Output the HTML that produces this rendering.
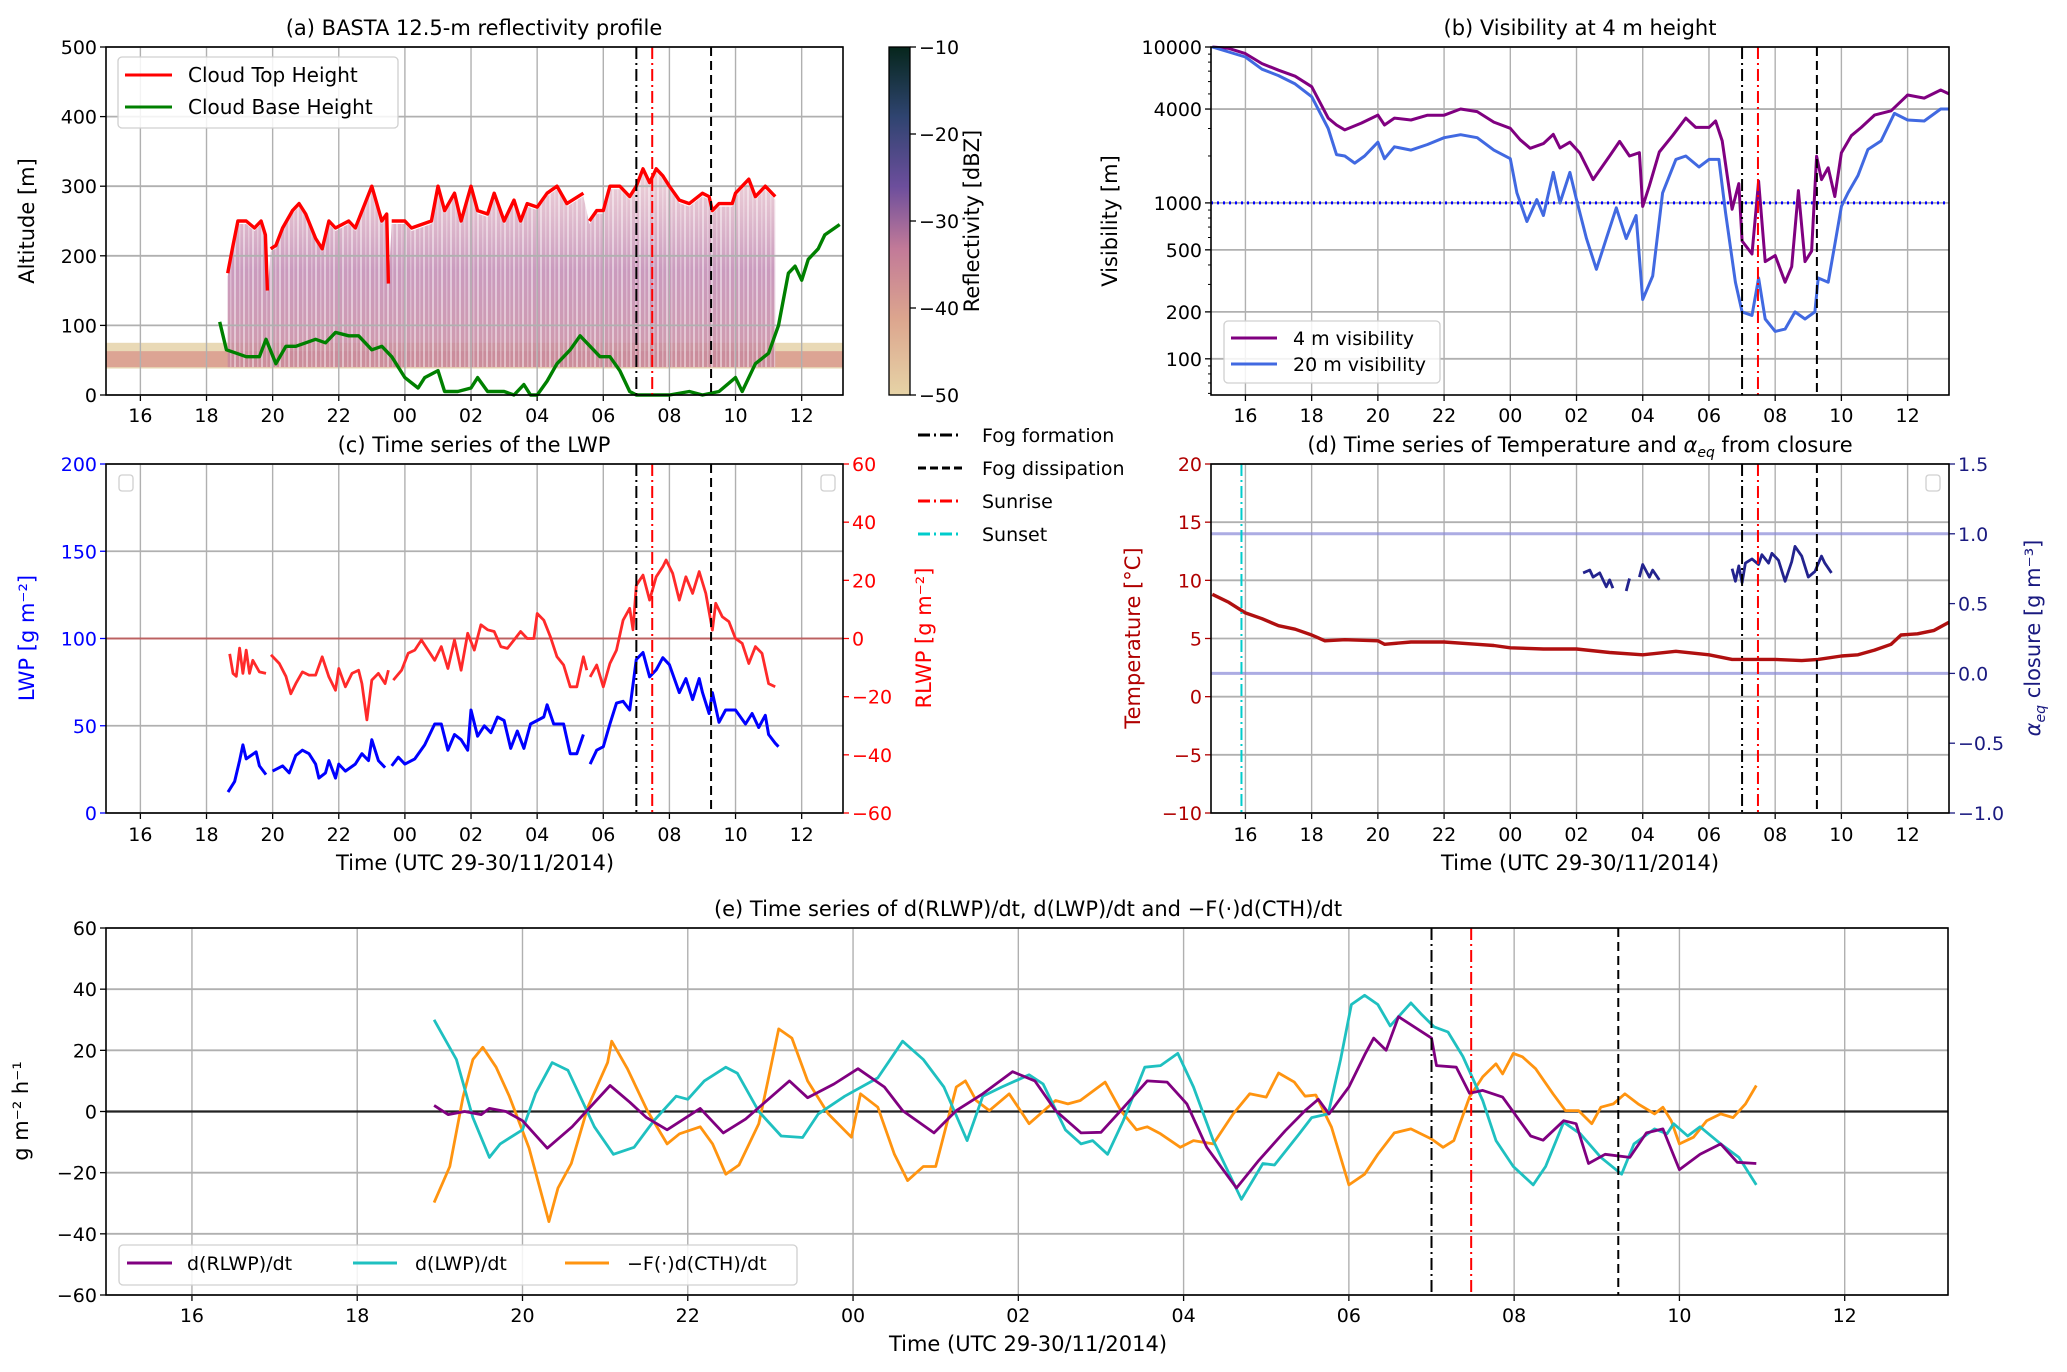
<!DOCTYPE html>
<html><head><meta charset="utf-8"><title>Fog case chart</title>
<style>
html,body{margin:0;padding:0;background:#fff;}
svg{display:block;font-family:"DejaVu Sans","Liberation Sans",sans-serif;}
</style></head>
<body>
<svg id="fig" width="2067" height="1372" viewBox="0 0 2067 1372" xmlns="http://www.w3.org/2000/svg">
<defs>
<linearGradient id="cbar" x1="0" y1="1" x2="0" y2="0">
<stop offset="0" stop-color="#e6d3a6"/><stop offset="0.22" stop-color="#dca58e"/>
<stop offset="0.42" stop-color="#c27a98"/><stop offset="0.6" stop-color="#6c4e9c"/>
<stop offset="0.8" stop-color="#2f4470"/><stop offset="1" stop-color="#06261c"/>
</linearGradient>
<linearGradient id="cloudfill" x1="0" y1="0" x2="0" y2="1">
<stop offset="0" stop-color="#e2b4c0" stop-opacity="0.6"/><stop offset="0.5" stop-color="#b97aa8" stop-opacity="0.75"/>
<stop offset="1" stop-color="#c98a9c" stop-opacity="0.85"/>
</linearGradient>
<pattern id="streaks" width="9" height="10" patternUnits="userSpaceOnUse">
<rect x="0" y="0" width="9" height="10" fill="#fff" fill-opacity="0"/>
<rect x="0" y="0" width="2" height="10" fill="#fff" fill-opacity="0.45"/>
<rect x="5" y="0" width="1.5" height="10" fill="#fff" fill-opacity="0.3"/>
</pattern>
</defs>
</svg>
<script>
// ---------- DATA ----------
const xTicks=[16,18,20,22,24,26,28,30,32,34,36];
const xTickLabels=["16","18","20","22","00","02","04","06","08","10","12"];
const fogFormation=31.0, sunrise=31.48, fogDissipation=33.26, sunset=15.88;

const cthT=[18.64,18.8,18.95,19.2,19.45,19.65,19.78,19.84,null,19.94,20.1,20.3,20.6,20.8,21.0,21.3,21.5,21.7,21.9,22.3,22.5,23.0,23.3,23.45,23.5,null,23.6,24.0,24.2,24.8,25.0,25.2,25.5,25.7,26.0,26.2,26.5,26.7,27.0,27.3,27.5,27.7,28.0,28.3,28.6,28.9,29.4,null,29.58,29.8,30.0,30.2,30.5,30.8,31.0,31.2,31.4,31.6,31.8,32.0,32.3,32.6,33.0,33.2,33.3,33.5,33.9,34.0,34.4,34.6,34.9,35.2];
const cthV=[175,215,250,250,240,250,230,150,null,210,215,240,265,275,260,225,210,250,240,250,240,300,250,260,160,null,250,250,240,250,300,265,290,250,300,265,260,290,250,280,250,275,270,290,300,275,290,null,250,265,265,300,300,285,300,325,305,325,315,300,280,275,290,285,265,275,275,290,310,285,300,285];
const cbhT=[18.4,18.6,18.9,19.2,19.6,19.8,20.1,20.4,20.7,21.0,21.3,21.6,21.9,22.3,22.6,23.0,23.3,23.6,24.0,24.4,24.6,25.0,25.2,25.6,26.0,26.2,26.5,27.0,27.3,27.6,27.8,28.0,28.3,28.6,29.0,29.3,29.6,29.9,30.2,30.5,30.8,31.0,32.0,32.6,33.0,33.5,34.0,34.2,34.6,35.0,35.3,35.6,35.8,36.0,36.2,36.5,36.7,37.0,37.15];
const cbhV=[105,65,60,55,55,80,45,70,70,75,80,75,90,85,85,65,70,55,25,10,25,35,5,5,10,25,5,5,0,15,0,0,20,45,65,85,70,55,55,35,5,0,0,5,0,5,25,5,45,60,100,175,185,165,195,210,230,240,245];

const vis4T=[15.0,15.5,16.0,16.5,17.0,17.5,18.0,18.5,18.75,19.0,19.5,20.0,20.2,20.5,21.0,21.5,22.0,22.5,23.0,23.5,24.0,24.3,24.6,25.0,25.3,25.5,25.8,26.1,26.5,27.0,27.3,27.6,27.9,28.0,28.2,28.5,28.9,29.3,29.6,30.0,30.2,30.4,30.7,30.9,31.0,31.3,31.5,31.7,32.0,32.3,32.5,32.7,32.9,33.1,33.25,33.4,33.6,33.8,34.0,34.3,34.6,35.0,35.5,36.0,36.5,37.0,37.25];
const vis4V=[10000,9800,9070,7830,7100,6500,5560,3500,3160,2940,3250,3660,3160,3500,3400,3650,3650,4000,3850,3300,3010,2540,2240,2400,2750,2250,2450,2090,1410,2000,2480,2000,2100,950,1290,2120,2700,3500,3050,3050,3350,2500,910,1330,570,470,1380,420,460,310,390,1200,420,490,1990,1410,1680,1100,2100,2700,3050,3660,3900,4920,4700,5300,5000];
const vis20T=[15.0,16.0,16.5,17.0,17.5,18.0,18.5,18.75,19.0,19.3,19.6,20.0,20.2,20.5,21.0,21.5,22.0,22.5,23.0,23.5,24.0,24.2,24.5,24.8,25.0,25.3,25.5,25.8,26.0,26.3,26.6,26.9,27.2,27.5,27.8,28.0,28.3,28.6,29.0,29.3,29.7,30.0,30.3,30.5,30.8,31.0,31.3,31.5,31.7,32.0,32.3,32.6,32.9,33.2,33.3,33.6,33.8,34.0,34.2,34.5,34.8,35.2,35.6,36.0,36.5,37.0,37.25];
const vis20V=[10000,8630,7200,6550,5800,4800,3000,2040,2000,1800,2000,2450,1920,2290,2180,2370,2620,2740,2620,2180,1920,1160,760,1050,830,1570,1000,1570,1050,590,375,590,930,590,830,240,340,1160,1900,2000,1700,1900,1900,870,310,200,190,330,180,150,155,200,180,200,330,310,540,950,1160,1500,2200,2500,3750,3400,3350,4000,4000];

const lwpT=[18.65,18.85,19.0,19.1,19.2,19.35,19.5,19.6,19.8,null,20.0,20.3,20.5,20.7,20.9,21.1,21.3,21.4,21.6,21.7,21.9,22.0,22.2,22.5,22.7,22.9,23.0,23.2,23.4,null,23.6,23.8,24.0,24.3,24.6,24.9,25.1,25.3,25.5,25.7,25.9,26.0,26.2,26.4,26.6,26.8,27.0,27.2,27.4,27.6,27.8,28.0,28.2,28.3,28.5,28.8,29.0,29.2,29.4,null,29.6,29.8,30.0,30.2,30.4,30.6,30.8,31.0,31.2,31.4,31.6,31.8,32.0,32.3,32.5,32.7,32.9,33.0,33.2,33.3,33.5,33.7,34.0,34.3,34.5,34.7,34.9,35.0,35.2,35.3];
const lwpV=[12,18,30,39,31,33,35,27,22,null,24,27,23,33,36,34,28,20,23,30,20,28,24,28,34,30,42,30,26,null,27,32,28,31,39,51,51,36,45,42,36,59,44,50,46,55,53,37,47,37,51,53,55,62,51,51,34,34,45,null,28,36,38,51,63,64,59,88,92,78,82,89,85,69,77,65,77,69,57,69,52,59,59,51,57,49,56,45,40,38];
const rlwpT=[18.7,18.8,18.9,19.0,19.1,19.2,19.3,19.4,19.6,19.8,null,19.95,20.2,20.4,20.55,20.7,20.9,21.1,21.3,21.5,21.7,21.9,22.0,22.2,22.4,22.6,22.7,22.85,23.0,23.2,23.4,23.5,null,23.65,23.9,24.1,24.3,24.5,24.7,24.9,25.1,25.3,25.5,25.7,25.9,26.1,26.3,26.5,26.7,26.9,27.1,27.3,27.5,27.7,27.9,28.0,28.2,28.4,28.6,28.8,29.0,29.2,29.4,29.5,null,29.6,29.8,30.0,30.2,30.4,30.6,30.8,30.9,31.0,31.2,31.4,31.6,31.8,31.9,32.1,32.3,32.5,32.7,32.9,33.1,33.3,33.4,33.6,33.8,34.0,34.2,34.4,34.6,34.8,35.0,35.2];
const rlwpV=[-5.3,-12,-13,-3.3,-12,-4,-12,-7.5,-11.5,-12,null,-5.6,-8.6,-13,-19,-15.5,-11.5,-12.6,-12.6,-6.3,-13.2,-17.8,-10.3,-16.6,-12,-10.9,-15.5,-28,-14.3,-12,-15.5,-10.9,null,-14.3,-10.9,-5.1,-4,-0.5,-4,-7.5,-2.8,-10.3,-0.5,-10.9,1.8,-4,4.7,3,2.4,-2.8,-3.4,-0.5,2.4,0,0,8.6,6.3,0.6,-6.3,-9.1,-16.6,-16.6,-6.3,-10.9,null,-13.2,-9.1,-16.6,-8.6,-4,6.3,10.4,3,18.3,21.8,13.2,21.2,24.7,27,22.4,13.2,21.2,15.5,23,15.5,2.9,12.1,7.5,5.8,0,-1.7,-8.6,-2.8,-5.1,-15.5,-16.6];

const tempT=[15.0,15.5,16.0,16.5,17.0,17.5,18.0,18.4,19.0,20.0,20.2,21.0,22.0,23.0,23.5,24.0,25.0,26.0,27.0,28.0,29.0,30.0,30.7,31.0,32.0,32.8,33.3,34.0,34.5,35.0,35.5,35.8,36.3,36.8,37.25];
const tempV=[8.8,8.1,7.2,6.7,6.1,5.8,5.3,4.8,4.9,4.8,4.5,4.7,4.7,4.5,4.4,4.2,4.1,4.1,3.8,3.6,3.9,3.6,3.2,3.2,3.2,3.1,3.2,3.5,3.6,4.0,4.5,5.3,5.4,5.7,6.4];
const alphaT=[26.2,26.4,26.5,26.7,26.9,27.0,27.1,null,27.5,27.6,null,27.9,28.0,28.2,28.3,28.5,null,30.7,30.8,30.9,31.0,31.1,31.3,31.5,31.6,31.8,31.9,32.1,32.3,32.5,32.6,32.8,33.0,33.2,33.4,33.5,33.7];
const alphaV=[0.72,0.74,0.69,0.72,0.62,0.67,0.61,null,0.59,0.68,null,0.69,0.78,0.69,0.74,0.67,null,0.75,0.66,0.77,0.65,0.79,0.82,0.78,0.85,0.79,0.86,0.81,0.66,0.8,0.91,0.84,0.69,0.73,0.84,0.79,0.72];

const eRlwpT=[18.93,19.1,19.3,19.5,19.6,19.8,20.0,20.3,20.6,21.06,21.3,21.5,21.75,22.15,22.43,22.7,23.23,23.45,23.77,24.06,24.38,24.6,24.98,25.25,25.57,25.93,26.2,26.45,26.76,27.0,27.24,27.56,27.8,28.04,28.28,28.64,28.91,29.23,29.47,29.63,29.76,30.0,30.2,30.3,30.45,30.6,31.0,31.06,31.3,31.46,31.62,31.86,32.2,32.35,32.6,32.75,32.9,33.1,33.4,33.6,33.8,34.0,34.25,34.5,34.7,34.93];
const eRlwpV=[2,-1,0,-1,1,0,-3,-12,-5,8.5,3,-2,-6,1,-7,-2.5,10,4.5,9,14,8,0.3,-7,0.3,5.8,13,10,0.3,-7,-6.8,0.3,10,9.6,2.5,-11.7,-25,-16,-6.3,0.3,4,-0.8,8,19,24,20,31,24,15,14.5,6,6.9,4.7,-8,-9.4,-3,-4,-17,-14,-15,-7,-5.7,-19,-14,-10.6,-16.6,-17];
const eLwpT=[18.93,19.2,19.4,19.6,19.73,20.0,20.16,20.36,20.55,20.87,21.1,21.35,21.59,21.86,22.0,22.2,22.46,22.6,22.86,23.13,23.39,23.58,23.9,24.3,24.6,24.85,25.1,25.38,25.57,25.8,26.13,26.3,26.57,26.76,26.9,27.08,27.27,27.53,27.72,27.93,28.12,28.36,28.7,28.96,29.1,29.4,29.55,29.75,29.9,30.03,30.19,30.35,30.5,30.75,30.87,31.03,31.2,31.38,31.62,31.78,31.99,32.23,32.38,32.6,32.8,33.05,33.3,33.45,33.7,33.85,33.93,34.1,34.25,34.5,34.72,34.93];
const eLwpV=[30,17,-2,-15,-10.6,-6,6,16,13.5,-5,-14,-11.7,-3,5,4,10,14.5,12.5,0,-8,-8.5,-0.8,5,11,23,17,8,-9.5,5,8,12,9,-6,-10.6,-9.5,-14,-3,14.5,15,19,8,-9.5,-28.7,-17,-17.5,-7.3,-2,-0.8,17,35,38,35,28,35.5,32,27.7,26,18,3.6,-9.5,-18,-24,-18,-3.5,-7.3,-15,-20.5,-10.6,-5.7,-7.3,-4,-8,-5,-10.6,-15,-24];
const eCthT=[18.93,19.12,19.28,19.4,19.52,19.68,19.84,20.08,20.32,20.43,20.59,20.79,21.03,21.08,21.27,21.51,21.75,21.9,22.15,22.3,22.46,22.62,22.86,22.97,23.1,23.26,23.45,23.7,23.98,24.09,24.3,24.5,24.66,24.85,25.0,25.25,25.36,25.49,25.65,25.89,26.13,26.45,26.6,26.75,27.05,27.24,27.43,27.56,27.72,27.96,28.12,28.36,28.6,28.8,29.0,29.15,29.34,29.47,29.6,29.79,30.0,30.19,30.35,30.55,30.75,30.87,31.0,31.14,31.27,31.46,31.62,31.78,31.86,31.99,32.1,32.26,32.47,32.62,32.78,32.94,33.05,33.2,33.34,33.5,33.7,33.8,33.9,34.0,34.17,34.33,34.5,34.65,34.8,34.93];
const eCthV=[-29.8,-18,4.7,17,21,14.5,5,-12,-36,-25,-17,1.4,16,23,14,0.3,-10.6,-7.3,-5,-10.6,-20.5,-17.5,-4,10,27,24,10,-0.8,-8.4,5.8,1.4,-14,-22.6,-18,-18,8,10,3.6,0.3,5.8,-4,3.6,2.5,3.6,9.6,0.3,-6,-5,-7.3,-11.7,-9.5,-10.6,-0.8,5.8,4.7,12.6,9.6,5,5.4,-5.1,-24,-20.5,-14,-7,-5.7,-7.3,-9,-11.7,-9.5,4.7,11.3,15.6,12.3,19,17.9,14,5.8,0.3,0.3,-4,1.4,2.5,5.8,2.5,-0.8,1.4,-3,-10.6,-8.4,-3,-0.8,-2,2.5,8.5];

// ---------- HELPERS ----------
const NS="http://www.w3.org/2000/svg";
const svg=document.getElementById('fig');
function mk(tag,attrs,parent){const e=document.createElementNS(NS,tag);for(const k in attrs)e.setAttribute(k,attrs[k]);(parent||svg).appendChild(e);return e;}
function lin(d0,d1,r0,r1){return v=>r0+(v-d0)*(r1-r0)/(d1-d0);}
function lg(d0,d1,r0,r1){return v=>r0+(Math.log10(v)-Math.log10(d0))*(r1-r0)/(Math.log10(d1)-Math.log10(d0));}
function pathD(ts,vs,sx,sy){let d="",pen=false;for(let i=0;i<ts.length;i++){if(ts[i]===null||vs[i]===null){pen=false;continue;}d+=(pen?"L":"M")+sx(ts[i]).toFixed(1)+","+sy(vs[i]).toFixed(1);pen=true;}return d;}
function txt(s,x,y,attrs,parent){const e=mk('text',Object.assign({x:x,y:y},attrs||{}),parent);e.textContent=s;return e;}

const XMIN=14.96, XMAX=37.25;

function frame(P){
  const g=mk('g',{});
  
  
  P.g=g;
  P.sx=lin(XMIN,XMAX,P.x0,P.x1);
  return g;
}
function vgrid(P,showLabels,labelY){
  for(let i=0;i<xTicks.length;i++){
    const x=P.sx(xTicks[i]);
    const l=mk('line',{x1:x,x2:x,y1:P.y0,y2:P.y1,stroke:'#b0b0b0','stroke-width':1.4},P.g);
    
    
    const tk=mk('line',{x1:x,x2:x,y1:P.y1,y2:P.y1+6,stroke:'#000','stroke-width':1.3},P.g);
    
    
    const t=txt(xTickLabels[i],x,labelY,{'font-size':19,'text-anchor':'middle',fill:'#000'},P.g);
    
    
  }
}
function hgrid(P,vals,labels,sy,side,color,grid){
  for(let i=0;i<vals.length;i++){
    const y=sy(vals[i]);
    if(grid){
      const l=mk('line',{x1:P.x0,x2:P.x1,y1:y,y2:y,stroke:'#b0b0b0','stroke-width':1.8},P.g);
      
      
    }
    const xa=side==='left'?P.x0:P.x1, dx=side==='left'?-6:6;
    const tk=mk('line',{x1:xa,x2:xa+dx,y1:y,y2:y,stroke:color,'stroke-width':1.3},P.g);
    
    
    const t=txt(labels[i],side==='left'?xa-9:xa+9,y+7,{'font-size':19,'text-anchor':side==='left'?'end':'start',fill:color},P.g);
    
    
  }
}
function box(P){
  const r=mk('rect',{x:P.x0,y:P.y0,width:P.x1-P.x0,height:P.y1-P.y0,fill:'none',stroke:'#000','stroke-width':1.6},P.g);
  
  
}
function eventLines(P,withSunset){
  const ev=[[fogFormation,'#000','12,4,2,4','fog-formation-line'],[sunrise,'#ff0000','12,4,2,4','sunrise-line'],[fogDissipation,'#000','9,5','fog-dissipation-line']];
  if(withSunset)ev.push([sunset,'#00cccc','12,4,2,4','sunset-line']);
  for(const e of ev){
    const x=P.sx(e[0]);
    const l=mk('line',{x1:x,x2:x,y1:P.y0,y2:P.y1,stroke:e[1],'stroke-width':2,'stroke-dasharray':e[2]},P.g);
    
    
  }
}
function series(P,ts,vs,sy,color,w,name){
  const p=mk('path',{d:pathD(ts,vs,P.sx,sy),fill:'none',stroke:color,'stroke-width':w,'stroke-linejoin':'round'},P.g);
  
  
  return p;
}
function label(s,x,y,rot,color,name,size,parent){
  const t=txt(s,x,y,{'font-size':size||21,'text-anchor':'middle',fill:color||'#000',transform:rot?`rotate(-90 ${x} ${y})`:''},parent);
  
  
  return t;
}
function legendBox(x,y,w,h,name){
  const r=mk('rect',{x:x,y:y,width:w,height:h,rx:4,fill:'#fff','fill-opacity':0.85,stroke:'#d0d0d0','stroke-width':1.3});
  
  
}
function legendEntry(x1,x2,y,color,dash,text,tx,name,size){
  const l=mk('line',{x1:x1,x2:x2,y1:y,y2:y,stroke:color,'stroke-width':3,'stroke-dasharray':dash||''});
  
  
  const t=txt(text,tx,y+7,{'font-size':size||20,fill:'#000'});
  
  
}

// ---------- PANEL A ----------
const A={name:'reflectivity',x0:106,x1:843,y0:47,y1:395};
frame(A);
const ayA=lin(0,500,A.y1,A.y0);
const band1=mk('rect',{x:A.x0,y:ayA(75),width:A.x1-A.x0,height:ayA(38)-ayA(75),fill:'#e4cfa4',opacity:0.8},A.g);


const band2=mk('rect',{x:A.x0,y:ayA(63),width:A.x1-A.x0,height:ayA(40)-ayA(63),fill:'#d99a8e',opacity:0.85},A.g);


{
  const pts=[];
  for(let i=0;i<cthT.length;i++){if(cthT[i]!==null)pts.push([cthT[i],cthV[i]]);}
  let d="M"+A.sx(pts[0][0])+","+ayA(40);
  for(const p of pts)d+="L"+A.sx(p[0]).toFixed(1)+","+(ayA(p[1])+3).toFixed(1);
  d+="L"+A.sx(pts[pts.length-1][0])+","+ayA(40)+"Z";
  const poly=mk('path',{d:d,fill:'url(#cloudfill)'},A.g);
  
  
  const st=mk('path',{d:d,fill:'url(#streaks)'},A.g);
  
  
}
vgrid(A,true,422);
hgrid(A,[0,100,200,300,400,500],["0","100","200","300","400","500"],ayA,'left','#000',true);
series(A,cthT,cthV,ayA,'#ff0000',3.4,'cloud-top-height-line');
series(A,cbhT,cbhV,ayA,'#008000',3.4,'cloud-base-height-line');
eventLines(A,false);
box(A);
label('(a) BASTA 12.5-m reflectivity profile',474,35,false,'#000','panel-a-title');
label('Altitude [m]',34,221,true,'#000','altitude-axis-title');
legendBox(118,57,280,71,'panel-a-legend');
legendEntry(125,172,75,'#ff0000','','Cloud Top Height',188,'legend-cloud-top');
legendEntry(125,172,107,'#008000','','Cloud Base Height',188,'legend-cloud-base');
const cb=mk('rect',{x:889,y:47,width:21,height:348,fill:'url(#cbar)',stroke:'#000','stroke-width':1.3});


const cbTicks=[-10,-20,-30,-40,-50];
const cby=lin(-50,-10,395,47);
for(const v of cbTicks){
  const t=mk('line',{x1:910,x2:916,y1:cby(v),y2:cby(v),stroke:'#000','stroke-width':1.3});
  
  
  const l=txt('\u2212'+Math.abs(v),919,cby(v)+7,{'font-size':19});
  
  
}
label('Reflectivity [dBZ]',979,221,true,'#000','colorbar-title');

// ---------- PANEL B ----------
const B={name:'visibility',x0:1211,x1:1949,y0:47,y1:395};
frame(B);
const byB=lg(58.6,10000,B.y1,B.y0);
vgrid(B,true,422);
hgrid(B,[100,200,500,1000,4000,10000],["100","200","500","1000","4000","10000"],byB,'left','#000',true);
const minorB=[60,70,80,90,300,400,600,700,800,900,2000,3000,5000,6000,7000,8000,9000];
for(const v of minorB){
  const m=mk('line',{x1:B.x0,x2:B.x0-3,y1:byB(v),y2:byB(v),stroke:'#000','stroke-width':1},B.g);
  
  
}
const thr=mk('line',{x1:B.x0,x2:B.x1,y1:byB(1000),y2:byB(1000),stroke:'#0000ff','stroke-width':3,'stroke-dasharray':'2,4'},B.g);


series(B,vis4T,vis4V,byB,'#800080',3,'visibility-4m-line');
series(B,vis20T,vis20V,byB,'#4169e1',3,'visibility-20m-line');
eventLines(B,false);
box(B);
label('(b) Visibility at 4 m height',1580,35,false,'#000','panel-b-title');
label('Visibility [m]',1117,221,true,'#000','visibility-axis-title');
legendBox(1224,321,216,62,'panel-b-legend');
legendEntry(1231,1277,338,'#800080','','4 m visibility',1293,'legend-vis-4m',19);
legendEntry(1231,1277,364,'#4169e1','','20 m visibility',1293,'legend-vis-20m',19);

// ---------- PANEL C ----------
const C={name:'lwp',x0:106,x1:843,y0:464,y1:813};
frame(C);
const cyL=lin(0,200,C.y1,C.y0), cyR=lin(-60,60,C.y1,C.y0);
vgrid(C,true,841);
hgrid(C,[0,50,100,150,200],["0","50","100","150","200"],cyL,'left','#0000ff',true);
hgrid(C,[-60,-40,-20,0,20,40,60],["\u221260","\u221240","\u221220","0","20","40","60"],cyR,'right','#ff0000',false);
const zl=mk('line',{x1:C.x0,x2:C.x1,y1:cyR(0),y2:cyR(0),stroke:'#c04040','stroke-width':2,opacity:0.7},C.g);


series(C,rlwpT,rlwpV,cyR,'#ff2a2a',2.8,'rlwp-line');
series(C,lwpT,lwpV,cyL,'#0000ff',3,'lwp-line');
eventLines(C,false);
box(C);
for(const bx of [119,821]){
  const r=mk('rect',{x:bx,y:475,width:14,height:16,rx:3,fill:'#fff',stroke:'#d0d0d0','stroke-width':1.3});
  
  
}
label('(c) Time series of the LWP',474,452,false,'#000','panel-c-title');
label('LWP [g m\u207B\u00B2]',34,638,true,'#0000ff','lwp-axis-title');
label('RLWP [g m\u207B\u00B2]',931,638,true,'#ff0000','rlwp-axis-title');
label('Time (UTC 29-30/11/2014)',475,870,false,'#000','panel-c-x-axis-title');

legendEntry(918,962,435,'#000','12,4,2,4','Fog formation',982,'legend-fog-formation',19);
legendEntry(918,962,468,'#000','8,4','Fog dissipation',982,'legend-fog-dissipation',19);
legendEntry(918,962,501,'#ff0000','12,4,2,4','Sunrise',982,'legend-sunrise',19);
legendEntry(918,962,534,'#00cccc','12,4,2,4','Sunset',982,'legend-sunset',19);

// ---------- PANEL D ----------
const D={name:'temperature',x0:1211,x1:1949,y0:464,y1:813};
frame(D);
const dyT=lin(-10,20,D.y1,D.y0), dyA=lin(-1,1.5,D.y1,D.y0);
vgrid(D,true,841);
hgrid(D,[-10,-5,0,5,10,15,20],["\u221210","\u22125","0","5","10","15","20"],dyT,'left','#b00000',true);
hgrid(D,[-1,-0.5,0,0.5,1,1.5],["\u22121.0","\u22120.5","0.0","0.5","1.0","1.5"],dyA,'right','#1a1a80',false);
for(const v of [0,1]){
  const l=mk('line',{x1:D.x0,x2:D.x1,y1:dyA(v),y2:dyA(v),stroke:'#8a8ad8','stroke-width':3,opacity:0.7},D.g);
  
  
}
series(D,tempT,tempV,dyT,'#b01010',3.4,'temperature-line');
series(D,alphaT,alphaV,dyA,'#23238e',2.8,'alpha-eq-line');
eventLines(D,true);
box(D);
{
  const r=mk('rect',{x:1926,y:475,width:14,height:16,rx:3,fill:'#fff',stroke:'#d0d0d0','stroke-width':1.3});
  
  
}
{
  const t=mk('text',{x:1580,y:452,'font-size':21,'text-anchor':'middle'});
  
  
  t.innerHTML='(d) Time series of Temperature and <tspan font-style="italic">α</tspan><tspan font-size="14" dy="5" font-style="italic">eq</tspan><tspan dy="-5"> from closure</tspan>';
}
label('Temperature [\u00B0C]',1140,638,true,'#b00000','temperature-axis-title');
{
  const t=mk('text',{x:2040,y:638,'font-size':21,'text-anchor':'middle',fill:'#1a1a80',transform:'rotate(-90 2040 638)'});
  
  
  t.innerHTML='<tspan font-style="italic">α</tspan><tspan font-size="14" dy="5" font-style="italic">eq</tspan><tspan dy="-5"> closure [g m\u207B\u00B3]</tspan>';
}
label('Time (UTC 29-30/11/2014)',1580,870,false,'#000','panel-d-x-axis-title');

// ---------- PANEL E ----------
const E={name:'tendencies',x0:106,x1:1948,y0:928,y1:1295};
frame(E);
const eyE=lin(-60,60,E.y1,E.y0);
vgrid(E,true,1322);
hgrid(E,[-60,-40,-20,0,20,40,60],["\u221260","\u221240","\u221220","0","20","40","60"],eyE,'left','#000',true);
const z0=mk('line',{x1:E.x0,x2:E.x1,y1:eyE(0),y2:eyE(0),stroke:'#222','stroke-width':2.2},E.g);


series(E,eCthT,eCthV,eyE,'#ff9410',2.8,'cth-tendency-line');
series(E,eLwpT,eLwpV,eyE,'#1fc0c0',2.8,'lwp-tendency-line');
series(E,eRlwpT,eRlwpV,eyE,'#800080',2.8,'rlwp-tendency-line');
eventLines(E,false);
box(E);
label('(e) Time series of d(RLWP)/dt, d(LWP)/dt and \u2212F(\u00B7)d(CTH)/dt',1028,916,false,'#000','panel-e-title');
label('g m\u207B\u00B2 h\u207B\u00B9',28,1111,true,'#000','tendency-axis-title');
label('Time (UTC 29-30/11/2014)',1028,1351,false,'#000','panel-e-x-axis-title');
legendBox(119,1245,678,40,'panel-e-legend');
legendEntry(127,172,1263,'#800080','','d(RLWP)/dt',187,'legend-drlwp',19);
legendEntry(353,397,1263,'#1fc0c0','','d(LWP)/dt',415,'legend-dlwp',19);
legendEntry(565,609,1263,'#ff9410','','\u2212F(\u00B7)d(CTH)/dt',627,'legend-dcth',19);
</script>
</body></html>
